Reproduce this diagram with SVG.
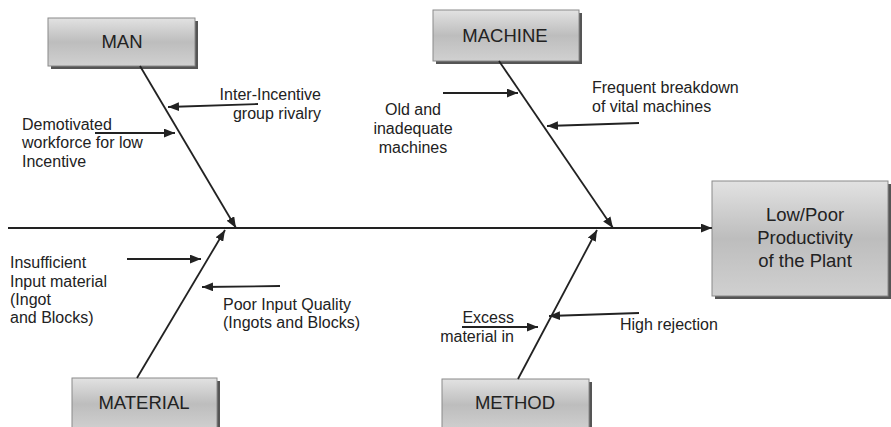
<svg xmlns="http://www.w3.org/2000/svg" width="891" height="427" viewBox="0 0 891 427">
<style>
.box{fill:url(#g);stroke:#8a8a8a;stroke-width:1}
.sh{fill:#555}
.t{font-family:"Liberation Sans",Arial,sans-serif;font-size:18.5px;fill:#222;text-anchor:middle}
.l{font-family:"Liberation Sans",Arial,sans-serif;font-size:16px;fill:#222}
.ln{stroke:#222;stroke-width:2.2;fill:none}
.ar{stroke:#222;stroke-width:1.8;fill:none;marker-end:url(#a)}
</style>
<defs>
<linearGradient id="g" x1="0" y1="0" x2="0" y2="1">
<stop offset="0" stop-color="#e2e2e2"/>
<stop offset="0.5" stop-color="#bdbdbd"/>
<stop offset="1" stop-color="#d0d0d0"/>
</linearGradient>
<marker id="a" viewBox="0 0 10 8" refX="10" refY="4" markerWidth="11" markerHeight="9" markerUnits="userSpaceOnUse" orient="auto">
<path d="M0,0 L10,4 L0,8 Z" fill="#222"/>
</marker>
</defs>

<g id="man">
<rect class="sh" x="51" y="21" width="147" height="48"/>
<rect class="box" x="48" y="18" width="147" height="48"/>
<text class="t" x="122" y="48">MAN</text>
</g>
<g id="machine">
<rect class="sh" x="436" y="13" width="146" height="51"/>
<rect class="box" x="433" y="10" width="146" height="51"/>
<text class="t" x="505" y="42">MACHINE</text>
</g>
<g id="material">
<rect class="sh" x="75" y="381" width="145" height="50"/>
<rect class="box" x="72" y="378" width="145" height="52"/>
<text class="t" x="144" y="409">MATERIAL</text>
</g>
<g id="method">
<rect class="sh" x="445" y="382" width="147" height="50"/>
<rect class="box" x="442" y="379" width="147" height="52"/>
<text class="t" x="515" y="409">METHOD</text>
</g>
<g id="effect">
<rect class="sh" x="715" y="184" width="176" height="115"/>
<rect class="box" x="712" y="181" width="176" height="115"/>
<text class="t" x="805" y="221">Low/Poor</text>
<text class="t" x="805" y="244">Productivity</text>
<text class="t" x="805" y="267">of the Plant</text>
</g>

<g id="connectors">
<line class="ln" x1="8" y1="228" x2="700" y2="228"/>
<line class="ar" x1="690" y1="228" x2="712" y2="228"/>
<line class="ar" x1="140" y1="66" x2="236" y2="228"/>
<line class="ar" x1="499" y1="61" x2="613" y2="228"/>
<line class="ar" x1="137" y1="378" x2="225" y2="230"/>
<line class="ar" x1="518" y1="379" x2="597" y2="230"/>
<line class="ar" x1="258" y1="104" x2="168" y2="107"/>
<line class="ar" x1="95" y1="133" x2="175" y2="133"/>
<line class="ar" x1="443" y1="93" x2="518" y2="93"/>
<line class="ar" x1="639" y1="123" x2="547" y2="126"/>
<line class="ar" x1="127" y1="259" x2="201" y2="259"/>
<line class="ar" x1="280" y1="286" x2="202" y2="287"/>
<line class="ar" x1="462" y1="327" x2="538" y2="327"/>
<line class="ar" x1="639" y1="313" x2="549" y2="316"/>
</g>

<g id="labels">
<text class="l" x="321" y="100" text-anchor="end">Inter-Incentive</text>
<text class="l" x="321" y="119" text-anchor="end">group rivalry</text>
<text class="l" x="22" y="130">Demotivated</text>
<text class="l" x="22" y="148">workforce for low</text>
<text class="l" x="22" y="167">Incentive</text>
<text class="l" x="413" y="115" text-anchor="middle">Old and</text>
<text class="l" x="413" y="134" text-anchor="middle">inadequate</text>
<text class="l" x="413" y="153" text-anchor="middle">machines</text>
<text class="l" x="592" y="93">Frequent breakdown</text>
<text class="l" x="592" y="112">of vital machines</text>
<text class="l" x="10" y="268">Insufficient</text>
<text class="l" x="10" y="287">Input material</text>
<text class="l" x="10" y="305">(Ingot</text>
<text class="l" x="10" y="323">and Blocks)</text>
<text class="l" x="223" y="310">Poor Input Quality</text>
<text class="l" x="223" y="328">(Ingots and Blocks)</text>
<text class="l" x="514" y="323" text-anchor="end">Excess</text>
<text class="l" x="514" y="342" text-anchor="end">material in</text>
<text class="l" x="620" y="330">High rejection</text>
</g>
</svg>
